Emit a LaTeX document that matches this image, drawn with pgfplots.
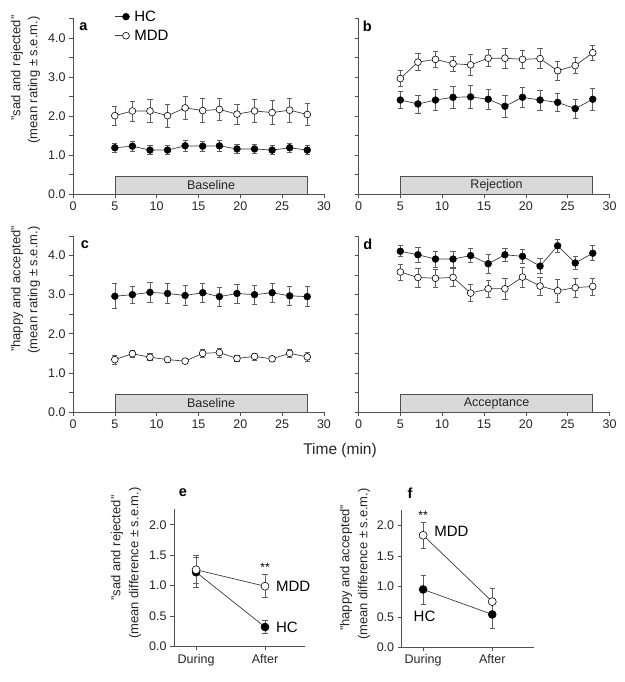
\documentclass[border=0pt]{standalone}
\usepackage{fontspec}
\setmainfont{Liberation Sans}
\usepackage{pgfplots}
\usepackage{pgfplotstable}
\pgfplotsset{compat=1.18}

\definecolor{ax}{RGB}{80,80,80}
\definecolor{ln}{RGB}{60,60,60}
\definecolor{eb}{RGB}{95,95,95}
\definecolor{boxfill}{RGB}{217,217,217}

\pgfplotstableread{
x    hc   hce  mdd  mdde
5.0  1.19 0.12 2.01 0.24
7.1  1.23 0.13 2.13 0.26
9.2  1.13 0.11 2.13 0.30
11.3 1.13 0.12 2.01 0.30
13.4 1.24 0.14 2.21 0.30
15.5 1.23 0.12 2.14 0.31
17.5 1.24 0.14 2.17 0.29
19.6 1.16 0.11 2.05 0.25
21.7 1.16 0.11 2.13 0.30
23.8 1.13 0.12 2.09 0.31
25.9 1.19 0.12 2.15 0.30
28.0 1.13 0.12 2.04 0.28
}\tabA
\pgfplotstableread{
x    hc   hce  mdd  mdde
5.0  2.41 0.22 2.96 0.21
7.1  2.31 0.23 3.38 0.22
9.2  2.41 0.27 3.45 0.20
11.3 2.48 0.27 3.34 0.20
13.4 2.49 0.29 3.31 0.28
15.5 2.43 0.26 3.48 0.22
17.5 2.25 0.27 3.48 0.26
19.6 2.48 0.26 3.45 0.24
21.7 2.41 0.25 3.47 0.26
23.8 2.35 0.24 3.16 0.24
25.9 2.19 0.24 3.29 0.20
28.0 2.43 0.27 3.62 0.19
}\tabB
\pgfplotstableread{
x    hc   hce  mdd  mdde
5.0  2.96 0.32 1.34 0.11
7.1  3.00 0.22 1.49 0.10
9.2  3.06 0.26 1.40 0.09
11.3 3.03 0.26 1.34 0.07
13.4 2.98 0.26 1.30 0.06
15.5 3.05 0.25 1.50 0.11
17.5 2.95 0.25 1.52 0.12
19.6 3.03 0.24 1.37 0.08
21.7 3.00 0.24 1.42 0.09
23.8 3.05 0.25 1.36 0.07
25.9 2.97 0.24 1.50 0.11
28.0 2.95 0.26 1.41 0.11
}\tabC
\pgfplotstableread{
x    hc   hce  mdd  mdde
5.0  4.11 0.14 3.58 0.20
7.1  4.02 0.20 3.44 0.24
9.2  3.91 0.20 3.42 0.23
11.3 3.91 0.20 3.44 0.23
13.4 4.00 0.18 3.04 0.22
15.5 3.79 0.24 3.15 0.23
17.5 4.02 0.17 3.15 0.28
19.6 3.98 0.18 3.45 0.25
21.7 3.73 0.19 3.22 0.23
23.8 4.25 0.17 3.10 0.29
25.9 3.81 0.17 3.18 0.24
28.0 4.06 0.19 3.21 0.22
}\tabD
\pgfplotstableread{
x hc   hce  mdd  mdde
0 1.22 0.25 1.26 0.23
1 0.32 0.11 0.99 0.19
}\tabE
\pgfplotstableread{
x hc   hce  mdd  mdde
0 0.95 0.24 1.84 0.21
1 0.54 0.23 0.75 0.22
}\tabF

\pgfplotsset{
  base/.style={scale only axis, axis lines=left,
    axis line style={-, ax, line width=0.6pt},
    tick align=outside, tick style={ax, line width=0.6pt},
    major tick length=4pt, minor tick length=4pt,
    tick label style={font=\fontsize{12.5}{14}\selectfont, text=black!85},
    /pgf/number format/assume math mode=true,
    y tick label style={/pgf/number format/.cd, fixed, fixed zerofill, precision=1},
    clip=false},
  time/.style={base, width=251pt, height=176pt, xmin=0, xmax=30, ymin=0, ymax=4.5,
    xtick={0,5,...,30}, ytick={0,1,2,3,4}, minor ytick={0.5,1.5,2.5,3.5,4.5}},
  diff/.style={base, width=131pt, height=137pt, ymin=0, ymax=2.25,
    ytick={0,0.5,1,1.5,2}, xtick={0,1}, xticklabels={During,After},
    x tick label style={font=\fontsize{12.5}{14}\selectfont}},
  hc/.style={color=ln, line width=0.7pt, mark=*, mark size=#1,
    mark options={fill=black, draw=black, line width=0.5pt},
    error bars/.cd, y dir=both, y explicit,
    error bar style={eb, line width=0.6pt},
    error mark options={rotate=90, eb, mark size=2.6pt, line width=0.6pt}},
  hc/.default=3.4pt,
  mdd/.style={color=ln, line width=0.7pt, mark=*, mark size=#1,
    mark options={fill=white, draw=black, line width=0.6pt},
    error bars/.cd, y dir=both, y explicit,
    error bar style={eb, line width=0.6pt},
    error mark options={rotate=90, eb, mark size=2.6pt, line width=0.6pt}},
  mdd/.default=3.4pt,
}

\newcommand{\tbox}[1]{%
  \draw[fill=boxfill, draw=ax, line width=0.6pt] (axis cs:5,0) rectangle (axis cs:28,0.45);
  \node[font=\fontsize{12.5}{14}\selectfont, text=black!85] at (axis cs:16.5,0.225) {#1};}

\begin{document}
\begin{tikzpicture}
\path[use as bounding box] (0pt,0pt) rectangle (624pt,682pt);

% panel a
\begin{axis}[time, at={(73pt,487.7pt)}, anchor=south west,
  legend entries={HC,MDD},
  legend cell align=left,
  legend style={at={(0.165,1.05)}, anchor=north west, draw=none, fill=none,
    font=\fontsize{15}{17}\selectfont, row sep=5pt, inner sep=0pt,
    nodes={inner ysep=1pt, inner xsep=4pt, text height=11pt, text depth=1pt}},
  legend image code/.code={\draw[#1, mark=none] (0pt,0pt) -- (15pt,0pt);
    \draw[#1, only marks] plot coordinates {(11pt,0pt)};}]
\tbox{Baseline}
\addplot[hc] table[x=x, y=hc, y error=hce] {\tabA};
\addplot[mdd] table[x=x, y=mdd, y error=mdde] {\tabA};
\end{axis}

% panel b
\begin{axis}[time, at={(358.5pt,487.7pt)}, anchor=south west, yticklabels={}]
\tbox{Rejection}
\addplot[hc] table[x=x, y=hc, y error=hce] {\tabB};
\addplot[mdd] table[x=x, y=mdd, y error=mdde] {\tabB};
\end{axis}

% panel c
\begin{axis}[time, at={(73pt,270pt)}, anchor=south west]
\tbox{Baseline}
\addplot[hc] table[x=x, y=hc, y error=hce] {\tabC};
\addplot[mdd] table[x=x, y=mdd, y error=mdde] {\tabC};
\end{axis}

% panel d
\begin{axis}[time, at={(358.5pt,270pt)}, anchor=south west, yticklabels={}]
\tbox{Acceptance}
\addplot[hc] table[x=x, y=hc, y error=hce] {\tabD};
\addplot[mdd] table[x=x, y=mdd, y error=mdde] {\tabD};
\end{axis}

% panel e
\begin{axis}[diff, at={(174pt,35.5pt)}, anchor=south west, xmin=-0.32, xmax=1.58]
\addplot[hc=4pt] table[x=x, y=hc, y error=hce] {\tabE};
\addplot[mdd=4pt] table[x=x, y=mdd, y error=mdde] {\tabE};
\node[font=\fontsize{12}{13}\selectfont] at (axis cs:1,1.30) {**};
\node[anchor=west, font=\fontsize{15}{17}\selectfont] at (axis cs:1.11,0.99) {MDD};
\node[anchor=west, font=\fontsize{15}{17}\selectfont] at (axis cs:1.11,0.32) {HC};
\end{axis}

% panel f
\begin{axis}[diff, at={(401.7pt,34.7pt)}, anchor=south west, xmin=-0.31, xmax=1.6, width=132pt]
\addplot[hc=4pt] table[x=x, y=hc, y error=hce] {\tabF};
\addplot[mdd=4pt] table[x=x, y=mdd, y error=mdde] {\tabF};
\node[font=\fontsize{12}{13}\selectfont] at (axis cs:0,2.17) {**};
\node[anchor=west, font=\fontsize{15}{17}\selectfont] at (axis cs:0.11,1.90) {MDD};
\node[font=\fontsize{15}{17}\selectfont] at (axis cs:0.02,0.51) {HC};
\end{axis}

% panel letters
\node[font=\bfseries\fontsize{14.5}{16}\selectfont] at (83.3pt,655.3pt) {a};
\node[font=\bfseries\fontsize{14.5}{16}\selectfont] at (367.3pt,655.3pt) {b};
\node[font=\bfseries\fontsize{14.5}{16}\selectfont] at (85pt,437pt) {c};
\node[font=\bfseries\fontsize{14.5}{16}\selectfont] at (367.7pt,437.7pt) {d};
\node[font=\bfseries\fontsize{14.5}{16}\selectfont] at (183pt,189pt) {e};
\node[font=\bfseries\fontsize{14.5}{16}\selectfont] at (410pt,189pt) {f};

% y labels
\begin{scope}[every node/.style={rotate=90, font=\fontsize{13}{15}\selectfont, text=black!85}]
\node at (17pt,614pt) {"sad and rejected"};
\node at (34pt,602pt) {(mean rating ± s.e.m.)};
\node at (17pt,393pt) {"happy and accepted"};
\node at (34pt,392pt) {(mean rating ± s.e.m.)};
\node at (117pt,134pt) {"sad and rejected"};
\node at (135pt,119pt) {(mean difference ± s.e.m.)};
\node at (346pt,114pt) {"happy and accepted"};
\node at (364pt,118pt) {(mean difference ± s.e.m.)};
\end{scope}

\node[font=\fontsize{15.5}{17}\selectfont, text=black!85] at (340pt,232pt) {Time (min)};
\end{tikzpicture}
\end{document}
